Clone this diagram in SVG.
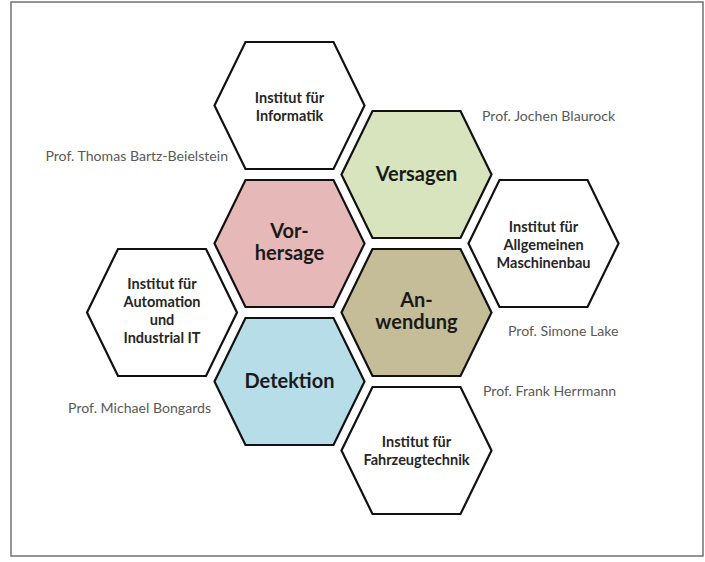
<svg xmlns="http://www.w3.org/2000/svg" width="705" height="562" viewBox="0 0 705 562">
  <style>
    .hex { stroke: #111; stroke-width: 2.2; stroke-linejoin: miter; }
    .white { fill: #ffffff; }
    .green { fill: #D7E4BD; }
    .pink { fill: #E6B9B8; }
    .tan { fill: #C4BD97; }
    .blue { fill: #B7DEE8; }
    .small { font-family: Lato, "Liberation Sans", sans-serif; font-weight: 700; font-size: 14.5px; fill: #262626; text-anchor: middle; }
    .big { font-family: Lato, "Liberation Sans", sans-serif; font-weight: 700; font-size: 20px; fill: #1a1a1a; text-anchor: middle; }
    .prof { font-family: Lato, "Liberation Sans", sans-serif; font-size: 14.1px; fill: #595959; }
  </style>
  <defs>
    <polygon id="hexshape" points="-75,0 -44,-63.5 44,-63.5 75,0 44,63.5 -44,63.5"/>
  </defs>
  <rect x="0" y="0" width="705" height="562" fill="#ffffff"/>
  <rect x="11" y="2" width="692" height="554" fill="#ffffff" stroke="#7a7a7a" stroke-width="1.6"/>

  <g id="connectors"></g>

  <g id="informatik" transform="translate(289.5,105.5)">
    <use href="#hexshape" class="hex white"/>
    <text class="small" x="0" y="-3">Institut für</text>
    <text class="small" x="0" y="15">Informatik</text>
  </g>
  <g id="versagen" transform="translate(416.5,174.5)">
    <use href="#hexshape" class="hex green"/>
    <text class="big" x="0" y="6">Versagen</text>
  </g>
  <g id="vorhersage" transform="translate(289.5,243.5)">
    <use href="#hexshape" class="hex pink"/>
    <text class="big" x="0" y="-6">Vor-</text>
    <text class="big" x="0" y="16.5">hersage</text>
  </g>
  <g id="allgemeinen" transform="translate(543.5,243.5)">
    <use href="#hexshape" class="hex white"/>
    <text class="small" x="0" y="-12">Institut für</text>
    <text class="small" x="0" y="6">Allgemeinen</text>
    <text class="small" x="0" y="24">Maschinenbau</text>
  </g>
  <g id="automation" transform="translate(162,312.5)">
    <use href="#hexshape" class="hex white"/>
    <text class="small" x="0" y="-24">Institut für</text>
    <text class="small" x="0" y="-6">Automation</text>
    <text class="small" x="0" y="12">und</text>
    <text class="small" x="0" y="30">Industrial IT</text>
  </g>
  <g id="anwendung" transform="translate(416.5,312.5)">
    <use href="#hexshape" class="hex tan"/>
    <text class="big" x="0" y="-6">An-</text>
    <text class="big" x="0" y="16.5">wendung</text>
  </g>
  <g id="detektion" transform="translate(289.5,381.5)">
    <use href="#hexshape" class="hex blue"/>
    <text class="big" x="0" y="6">Detektion</text>
  </g>
  <g id="fahrzeug" transform="translate(416.5,450.5)">
    <use href="#hexshape" class="hex white"/>
    <text class="small" x="0" y="-4">Institut für</text>
    <text class="small" x="0" y="14">Fahrzeugtechnik</text>
  </g>

  <g id="labels">
    <text class="prof" x="482" y="121">Prof. Jochen Blaurock</text>
    <text class="prof" x="228" y="160.5" text-anchor="end">Prof. Thomas Bartz-Beielstein</text>
    <text class="prof" x="508" y="336">Prof. Simone Lake</text>
    <text class="prof" x="483" y="395.5">Prof. Frank Herrmann</text>
    <text class="prof" x="211" y="413" text-anchor="end">Prof. Michael Bongards</text>
  </g>
</svg>
